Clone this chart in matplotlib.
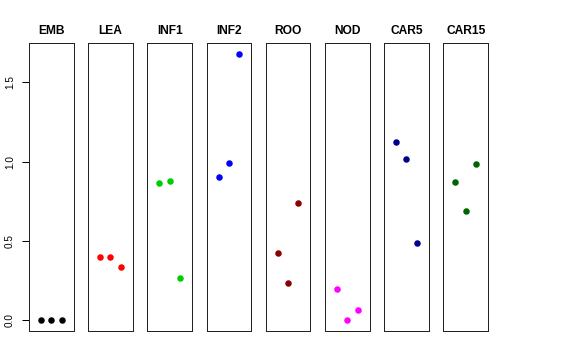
import matplotlib.pyplot as plt
import numpy as np

plt.rcParams['font.family'] = ['Liberation Sans', 'DejaVu Sans']

# tissues and their three values each
tissues = ['EMB', 'LEA', 'INF1', 'INF2', 'ROO', 'NOD', 'CAR5', 'CAR15']
values = [
    [0.0, 0.0, 0.0],
    [0.397, 0.401, 0.338],
    [0.864, 0.876, 0.269],
    [0.902, 0.990, 1.681],
    [0.422, 0.233, 0.742],
    [0.195, 0.0, 0.065],
    [1.122, 1.015, 0.485],
    [0.874, 0.687, 0.987],
]
colors = ['black', 'red', '#00CD00', 'blue', '#8B0000', 'magenta', '#00008B', '#006400']
yticks = [0.0, 0.5, 1.0, 1.5]

W, H = 576, 360
fig = plt.figure(figsize=(W / 72, H / 72), dpi=72)

ymin = min(min(v) for v in values)
ymax = max(max(v) for v in values)
pad = 0.04 * (ymax - ymin)

left, width, step = 29, 44.5, 59.2
top, bottom = 43, 331

for i, (name, vals, col) in enumerate(zip(tissues, values, colors)):
    x0 = left + i * step
    ax = fig.add_axes([x0 / W, (H - bottom) / H, width / W, (bottom - top) / H])
    x = np.arange(1, len(vals) + 1)
    ax.plot(x, vals, 'o', color=col, ms=6.5, mec='none')
    ax.set_xlim(-0.16, 4.16)
    ax.set_ylim(ymin - pad, ymax + pad)
    ax.set_xticks([])
    for s in ax.spines.values():
        s.set_linewidth(1.0)
        s.set_color('#222222')
    ax.set_title(name, fontsize=12, fontweight='bold', pad=9)
    if i == 0:
        ax.set_yticks(yticks)
        ax.set_yticklabels(['%.1f' % t for t in yticks], rotation=90, va='center', fontsize=10)
        ax.tick_params(axis='y', length=7, width=1, pad=7)
    else:
        ax.set_yticks([])

fig.savefig('out.png', dpi=72)
